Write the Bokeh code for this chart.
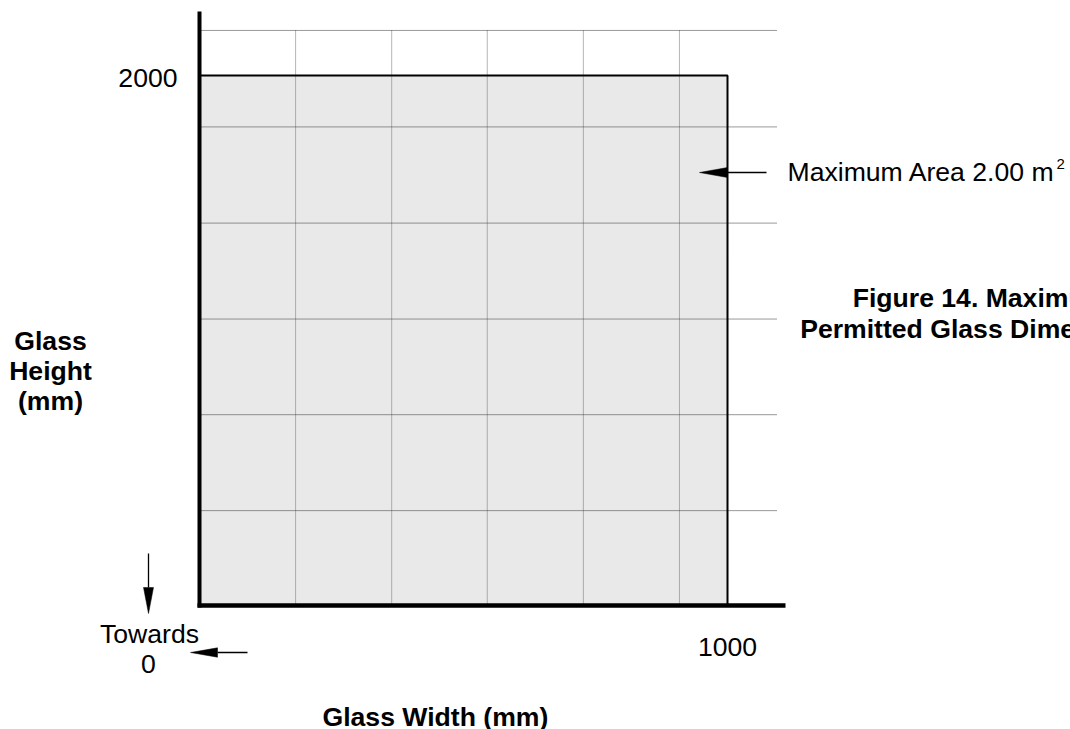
import math
from bokeh.plotting import figure
from bokeh.models import Range1d
from bokeh.core.properties import value
from bokeh.embed import file_html
from bokeh.resources import INLINE

# ---------------- data ----------------
max_width_mm = 1000
max_height_mm = 2000
x_tick_values = [1000]
x_tick_labels = ["1000"]
y_tick_values = [2000]
y_tick_labels = ["2000"]
grid_x_mm = [182, 364, 545, 727, 909]
grid_y_mm = [358, 720, 1081, 1443, 1806, 2170]
area_label = "Maximum Area 2.00 m"
area_sup = "2"
title_lines = ["Figure 14. Maximum", "Permitted Glass Dimensions"]
y_title_lines = ["Glass", "Height", "(mm)"]
x_title = "Glass Width (mm)"
towards_lines = ["Towards", "0"]

# ---------------- layout ----------------
W, H = 1070, 729
OFF = 0      # page offset of the canvas
SX = 0.528   # px per mm horizontally
SY = 0.265   # px per mm vertically
PX0 = 199    # page x of width 0
PY0 = 605    # page y of height 0
x_start = -(PX0 - OFF) / SX
x_end = x_start + W / SX
y_end = (PY0 - OFF) / SY
y_start = y_end - H / SY
FS = "26.6px"
TSHIFT = 10   # text vertical correction in px
SSHIFT = 6


def dx(px):
    return (px - PX0) / SX


def dy(py):
    return (PY0 - py) / SY


def ty(py):
    return dy(py - TSHIFT)


FONT = value("Liberation Sans")

p = figure(width=W, height=H,
           x_range=Range1d(x_start, x_end), y_range=Range1d(y_start, y_end),
           x_axis_location=None, y_axis_location=None,
           toolbar_location=None, output_backend="svg",
           min_border=0, min_border_left=0, min_border_right=0,
           min_border_top=0, min_border_bottom=0)
p.outline_line_color = None
p.grid.visible = False
p.background_fill_color = "white"
p.border_fill_color = "white"

# permitted region fill
p.quad(left=[0], right=[max_width_mm], bottom=[0], top=[max_height_mm],
       fill_color="#e9e9e9", line_color=None)

# dotted grid
grid_top = grid_y_mm[-1]
grid_right = dx(777)
p.segment(x0=grid_x_mm, y0=[0] * len(grid_x_mm), x1=grid_x_mm,
          y1=[grid_top] * len(grid_x_mm),
          line_color="#6a6a6a", line_width=1, line_dash="1 1")
p.segment(x0=[0] * len(grid_y_mm), y0=grid_y_mm,
          x1=[grid_right] * len(grid_y_mm), y1=grid_y_mm,
          line_color="#333333", line_width=1, line_dash="1 1")

# outline of permitted region
p.quad(left=[0], right=[max_width_mm], bottom=[0], top=[max_height_mm],
       fill_color=None, line_color="black", line_width=2)

# axis lines
p.segment(x0=[dx(197)], y0=[0], x1=[dx(785)], y1=[0],
          line_color="black", line_width=4.5)
p.segment(x0=[0], y0=[dy(607)], x1=[0], y1=[dy(11)],
          line_color="black", line_width=4)


# arrows
def arrow(x0, y0, x1, y1, head_len=27, head_half=5, width=1.3):
    vx = (x1 - x0) * SX
    vy = (y1 - y0) * SY
    L = math.hypot(vx, vy)
    ux, uy = vx / L, vy / L
    bx = x1 - ux * head_len / SX
    by = y1 - uy * head_len / SY
    px_, py_ = -uy, ux
    xs = [x1, bx + px_ * head_half / SX, bx - px_ * head_half / SX]
    ys = [y1, by + py_ * head_half / SY, by - py_ * head_half / SY]
    p.segment(x0=[x0], y0=[y0], x1=[bx], y1=[by], line_color="black",
              line_width=width)
    p.patch(x=xs, y=ys, fill_color="black", line_color="black", line_width=0.5)


arrow(dx(766), dy(172), dx(699), dy(172), head_len=28, head_half=5)
arrow(dx(148), dy(553), dx(148), dy(613), head_len=26, head_half=5)
arrow(dx(247), dy(652), dx(190), dy(652), head_len=27, head_half=4.7)

# tick labels
p.text(x=[dx(177)] * len(y_tick_values),
       y=[v - (12 - TSHIFT) / SY for v in y_tick_values], text=y_tick_labels,
       text_font=FONT, text_font_size=FS, text_align="right",
       text_baseline="alphabetic", text_color="black")
p.text(x=x_tick_values, y=[ty(656)] * len(x_tick_values), text=x_tick_labels,
       text_font=FONT, text_font_size=FS, text_align="center",
       text_baseline="alphabetic", text_color="black")

# annotations
p.text(x=[dx(149), dx(148)], y=[ty(643), ty(673)], text=towards_lines,
       text_font=FONT, text_font_size=FS, text_align="center",
       text_baseline="alphabetic", text_color="black")
p.text(x=[dx(787)], y=[ty(181)], text=[area_label],
       text_font=FONT, text_font_size=FS, text_align="left",
       text_baseline="alphabetic", text_color="black")
p.text(x=[dx(1056)], y=[dy(169 - SSHIFT)], text=[area_sup],
       text_font=FONT, text_font_size="15px", text_align="left",
       text_baseline="alphabetic", text_color="black")
p.text(x=[dx(980)] * 2, y=[ty(307), ty(338)], text=title_lines,
       text_font=FONT, text_font_size=FS, text_font_style="bold",
       text_align="center", text_baseline="alphabetic", text_color="black")
p.text(x=[dx(50)] * 3, y=[ty(350), ty(380), ty(410)], text=y_title_lines,
       text_font=FONT, text_font_size=FS, text_font_style="bold",
       text_align="center", text_baseline="alphabetic", text_color="black")
p.text(x=[dx(322)], y=[ty(726)], text=[x_title],
       text_font=FONT, text_font_size=FS, text_font_style="bold",
       text_align="left", text_baseline="alphabetic", text_color="black")

open("out.html", "w").write(file_html(p, INLINE))
